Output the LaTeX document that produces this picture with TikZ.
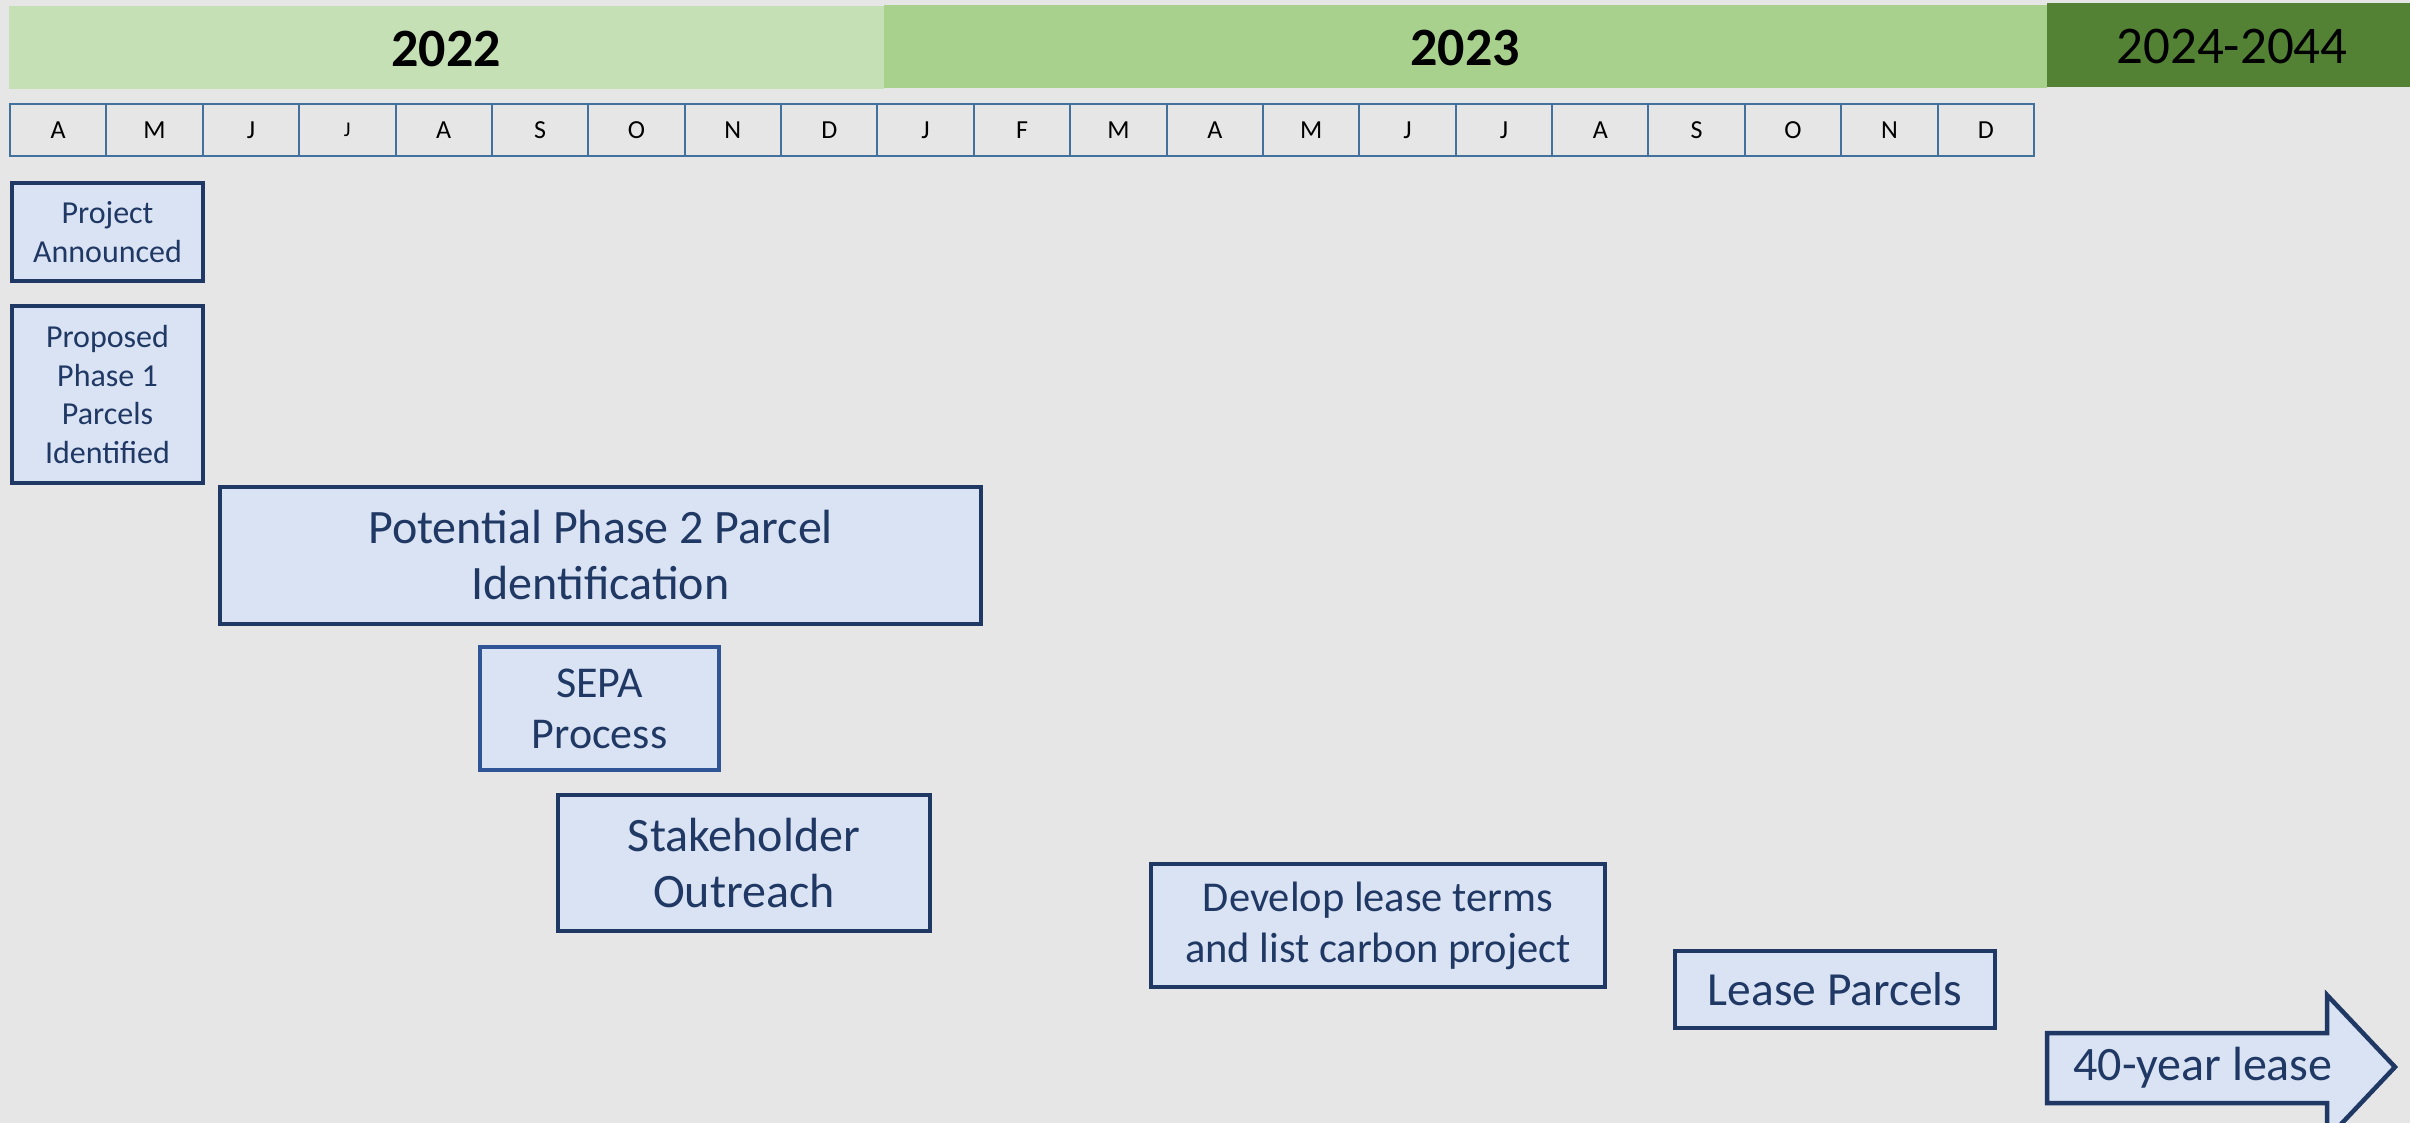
\documentclass[tikz,border=0pt]{standalone}
\usepackage{fontspec}
\setmainfont{Carlito}
\definecolor{bgc}{HTML}{E6E6E6}
\definecolor{ylight}{HTML}{C5E0B4}
\definecolor{ymid}{HTML}{A9D18E}
\definecolor{ydark}{HTML}{548235}
\definecolor{boxfill}{HTML}{DAE3F3}
\definecolor{navy}{HTML}{203864}
\definecolor{sepablue}{HTML}{2F5597}
\definecolor{monthline}{HTML}{41719C}
\begin{document}
\begin{tikzpicture}[x=1pt,y=-1pt,
  yearbar/.style={inner sep=0pt, outer sep=0pt},
  monthbox/.style={draw=monthline, line width=2pt, fill=bgc, minimum width=96.4pt, minimum height=52pt, inner sep=0pt, anchor=north west, font=\fontsize{26}{30}\selectfont, text=black},
  taskbox/.style={draw=navy, line width=4.5pt, fill=boxfill, inner sep=0pt, align=center, text=navy},
  smalltxt/.style={font=\fontsize{32}{38.5}\selectfont},
  bigtxt/.style={font=\fontsize{48}{56}\selectfont}
]
\useasboundingbox (0,0) rectangle (2410,1123);
\clip (0,0) rectangle (2410,1123);
\fill[bgc] (0,0) rectangle (2410,1123);

% year bars
\fill[ylight] (9,6) rectangle (884,89);
\fill[ymid] (884,5) rectangle (2047,88);
\fill[ydark] (2047,3) rectangle (2410,87);
\node[yearbar, font=\fontsize{54}{60}\selectfont\bfseries] (y2022) at (446,49) {2022};
\node[yearbar, font=\fontsize{54}{60}\selectfont\bfseries] (y2023) at (1465,48) {2023};
\node[yearbar, font=\fontsize{53}{60}\selectfont] (y2044) at (2232,46) {2024-2044};

% months
\foreach \m [count=\i from 0] in {A,M,J,J,A,S,O,N,D,J,F,M,A,M,J,J,A,S,O,N,D}{
  \node[monthbox] (m\i) at ({9+\i*96.38},103) {\m};
}
\node[monthbox, font=\fontsize{21}{24}\selectfont] (m3) at ({9+3*96.38},103) {J};

% tasks
\node[taskbox, smalltxt, minimum width=191pt, minimum height=98pt] (pa) at (107.5,232) {Project\\Announced};
\node[taskbox, smalltxt, minimum width=191pt, minimum height=177pt] (pp1) at (107.5,394.5) {Proposed\\Phase 1\\Parcels\\Identified};
\node[taskbox, bigtxt, minimum width=761pt, minimum height=137pt] (pp2) at (600.5,555.5) {Potential Phase 2 Parcel\\Identification};
\node[taskbox, draw=sepablue, line width=3.5pt, font=\fontsize{44}{51}\selectfont, minimum width=239pt, minimum height=123pt] (sepa) at (599.5,708.5) {SEPA\\Process};
\node[taskbox, bigtxt, minimum width=372pt, minimum height=136pt] (so) at (744,863) {Stakeholder\\Outreach};
\node[taskbox, font=\fontsize{42.5}{51}\selectfont, minimum width=454pt, minimum height=123pt] (dl) at (1378,925.5) {Develop lease terms\\and list carbon project};
\node[taskbox, font=\fontsize{47.5}{52}\selectfont, minimum width=320pt, minimum height=77pt] (lp) at (1835,989.5) {Lease Parcels};

% 40-year lease arrow
\draw[navy, line width=4.5pt, fill=boxfill, line join=miter]
  (2047,1033) -- (2327,1033) -- (2327,995) -- (2395,1067) -- (2327,1139) -- (2327,1103) -- (2047,1103) -- cycle;
\node[text=navy, font=\fontsize{48}{52}\selectfont, inner sep=0pt] (lease) at (2203,1068) {40-year lease};
\end{tikzpicture}
\end{document}
